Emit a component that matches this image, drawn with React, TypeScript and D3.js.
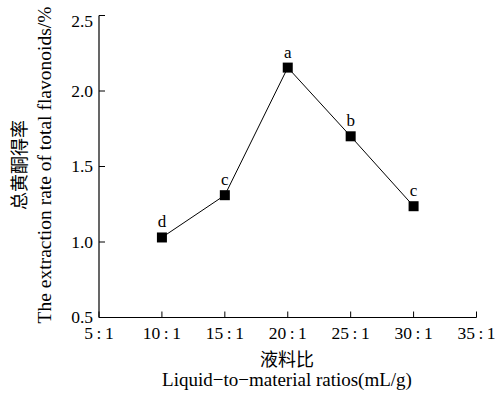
import React from "react";
import * as d3 from "d3";

const categories = ["5\u2009:\u20091", "10\u2009:\u20091", "15\u2009:\u20091", "20\u2009:\u20091", "25\u2009:\u20091", "30\u2009:\u20091", "35\u2009:\u20091"];
const pointCats = categories.slice(1, 6);
const values = [1.03, 1.31, 2.155, 1.7, 1.237];
const letters = ["d", "c", "a", "b", "c"];
const yTicks = [0.5, 1.0, 1.5, 2.0, 2.5];

const W = 501;
const H = 393;
const left = 99;
const right = 476.5;
const top = 15.5;
const bottom = 317.5;
const font = "'Liberation Serif', 'Times New Roman', serif";
const cjk = "'Noto Sans CJK SC', sans-serif";

export default function App() {
  const x = d3.scalePoint<string>().domain(categories).range([left, right]);
  const y = d3.scaleLinear().domain([0.5, 2.5]).range([bottom, top]);
  const line = d3
    .line<number>()
    .x((_, i) => x(pointCats[i]) as number)
    .y((d) => y(d));
  return (
    <svg width={W} height={H} style={{ position: "absolute", left: 0, top: 0, background: "#fff" }}>
      <rect width={W} height={H} fill="#fff" />
      <line x1={left} x2={left} y1={top} y2={bottom} stroke="#000" strokeWidth={1.2} />
      <line x1={left} x2={right} y1={bottom} y2={bottom} stroke="#000" strokeWidth={1.2} />
      {yTicks.map((t) => (
        <g key={t}>
          <line x1={left} x2={left + 6} y1={y(t)} y2={y(t)} stroke="#000" strokeWidth={1} />
          <text x={93} y={Math.max(y(t), 21)} dy="0.33em" textAnchor="end" fontFamily={font} fontSize={17.5}>
            {t.toFixed(1)}
          </text>
        </g>
      ))}
      {categories.map((c) => (
        <g key={c}>
          <line x1={x(c)} x2={x(c)} y1={bottom} y2={bottom - 6} stroke="#000" strokeWidth={1} />
          <text x={x(c)} y={339} textAnchor="middle" fontFamily={font} fontSize={17.5}>
            {c}
          </text>
        </g>
      ))}
      <path d={line(values) || ""} fill="none" stroke="#000" strokeWidth={1} />
      {values.map((v, i) => (
        <g key={i}>
          <rect x={(x(pointCats[i]) as number) - 5} y={y(v) - 5} width={10} height={10} fill="#000" />
          <text x={x(pointCats[i])} y={y(v) - 10} textAnchor="middle" fontFamily={font} fontSize={17}>
            {letters[i]}
          </text>
        </g>
      ))}
      <text x={287} y={366} textAnchor="middle" fontFamily={cjk} fontSize={18}>液料比</text>
      <text x={287} y={386} textAnchor="middle" fontFamily={font} fontSize={19}>
        Liquid−to−material ratios(mL/g)
      </text>
      <text transform="translate(26,165) rotate(-90)" textAnchor="middle" fontFamily={cjk} fontSize={18}>
        总黄酮得率
      </text>
      <text transform="translate(51,165) rotate(-90)" textAnchor="middle" fontFamily={font} fontSize={19.5}>
        The extraction rate of total flavonoids/%
      </text>
    </svg>
  );
}
